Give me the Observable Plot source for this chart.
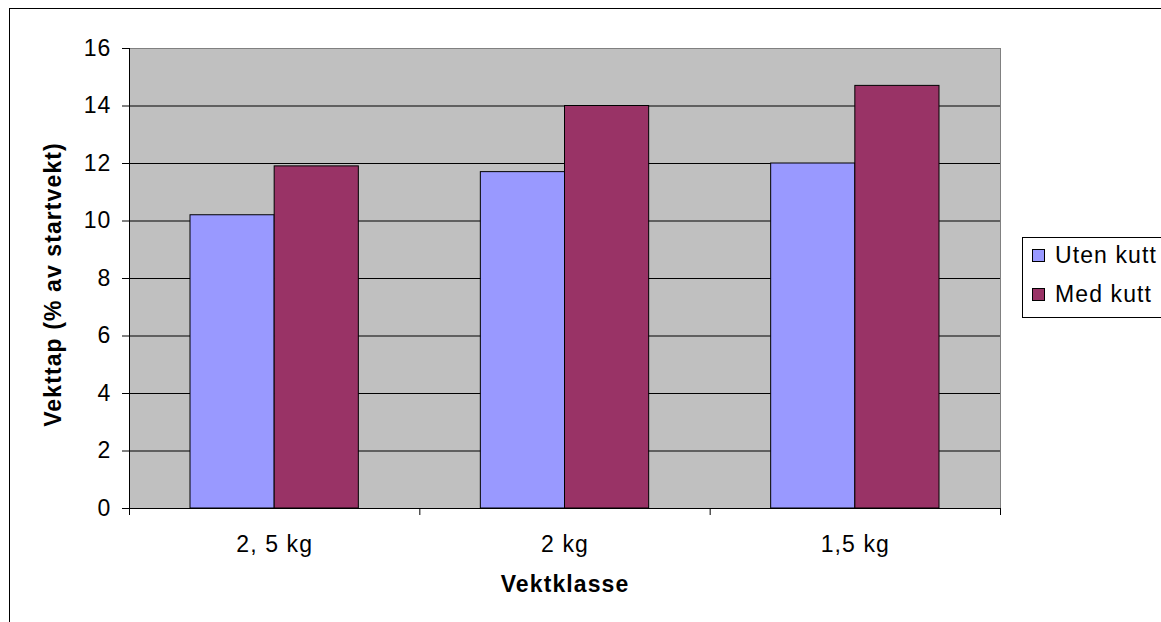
<!DOCTYPE html>
<html>
<head>
<meta charset="utf-8">
<script src="https://cdn.jsdelivr.net/npm/d3@7"></script>
<script src="https://cdn.jsdelivr.net/npm/@observablehq/plot@0.6"></script>
<style>
  html, body { margin: 0; padding: 0; background: #fff; overflow: hidden; }
  #wrap { position: relative; width: 1161px; height: 622px; font-family: "Liberation Sans", Arial, sans-serif; }
  #border { position: absolute; left: 9px; top: 8px; width: 2000px; height: 2000px; border-left: 1px solid #000; border-top: 1px solid #000; box-sizing: border-box; pointer-events: none; }
  #chart { position: absolute; left: 0; top: 0; }
  #legend { position: absolute; left: 1022px; top: 237px; width: 300px; height: 81px; border: 1px solid #000; box-sizing: border-box; background: #fff; }
  .item { position: absolute; left: 9px; display: flex; align-items: center; font-size: 23px; letter-spacing: 1.1px; color: #000; white-space: nowrap; }
  .sw { width: 11px; height: 11px; border: 1px solid #000; margin-right: 10px; }
</style>
</head>
<body>
<div id="wrap">
  <div id="chart"></div>
  <div id="border"></div>
  <div id="legend"></div>
</div>
<script>
const categories = ["2, 5 kg", "2 kg", "1,5 kg"];
const seriesNames = ["Uten kutt", "Med kutt"];
const utenKutt = [10.2, 11.7, 12.0];
const medKutt = [11.9, 14.0, 14.7];
const yTicks = [0, 2, 4, 6, 8, 10, 12, 14, 16];
const seriesColors = ["#9999FF", "#993366"];
const xTitle = "Vektklasse";
const yTitle = "Vekttap (% av startvekt)";

const data = categories.flatMap((c, i) => [
  {cat: c, series: seriesNames[0], value: utenKutt[i]},
  {cat: c, series: seriesNames[1], value: medKutt[i]}
]);

const W = 1161, H = 622;
const mL = 129, mR = 161, mT = 48, mB = 114;
const bw = (W - mL - mR) / categories.length;
const outer = 61;
const half = bw / 2;

const chart = Plot.plot({
  width: W,
  height: H,
  marginLeft: mL,
  marginRight: mR,
  marginTop: mT,
  marginBottom: mB,
  style: {fontFamily: '"Liberation Sans", Arial, sans-serif', fontSize: "23px", letterSpacing: "1.1px", color: "#000", background: "transparent", overflow: "visible"},
  x: {domain: categories, padding: 0, round: false, label: null},
  y: {domain: [0, 16], label: null},
  color: {domain: seriesNames, range: seriesColors},
  marks: [
    Plot.frame({fill: "#C0C0C0", stroke: null}),
    Plot.gridY(yTicks.filter(t => t > 0 && t < 16), {stroke: "#000", strokeOpacity: 1, strokeWidth: 1}),
    Plot.barY(data, {filter: d => d.series === seriesNames[0], x: "cat", y: "value", fill: "series", stroke: "#000", strokeWidth: 1, insetLeft: outer, insetRight: half}),
    Plot.barY(data, {filter: d => d.series === seriesNames[1], x: "cat", y: "value", fill: "series", stroke: "#000", strokeWidth: 1, insetLeft: half, insetRight: outer}),
    Plot.frame({anchor: "top", stroke: "#808080"}),
    Plot.frame({anchor: "right", stroke: "#808080"}),
    Plot.frame({anchor: "left", stroke: "#000"}),
    Plot.frame({anchor: "bottom", stroke: "#000"}),
    Plot.ruleX(categories, {x: d => d, dx: half, stroke: "#000", insetTop: H - mT - mB, insetBottom: -7}),
    Plot.ruleX([categories[0]], {x: d => d, dx: -half, stroke: "#000", insetTop: H - mT - mB, insetBottom: -7}),
    Plot.axisY(yTicks, {tickSize: 7, tickPadding: 11, label: null, stroke: "#000", fill: "#000"}),
    Plot.axisX({tickSize: 0, tickPadding: 27, label: null, fill: "#000"}),
    Plot.text([xTitle], {frameAnchor: "bottom", dy: 83, fontWeight: "bold", fill: "#000"}),
    Plot.text([yTitle], {frameAnchor: "left", textAnchor: "middle", dx: -76, dy: 6, rotate: -90, fontWeight: "bold", fill: "#000"})
  ]
});
document.getElementById("chart").appendChild(chart);

const legend = document.getElementById("legend");
seriesNames.forEach((s, i) => {
  const item = document.createElement("div");
  item.className = "item";
  item.style.top = (i === 0 ? 4 : 43) + "px";
  const sw = document.createElement("div");
  sw.className = "sw";
  sw.style.background = seriesColors[i];
  const t = document.createElement("span");
  t.textContent = s;
  item.appendChild(sw);
  item.appendChild(t);
  legend.appendChild(item);
});
</script>
</body>
</html>
